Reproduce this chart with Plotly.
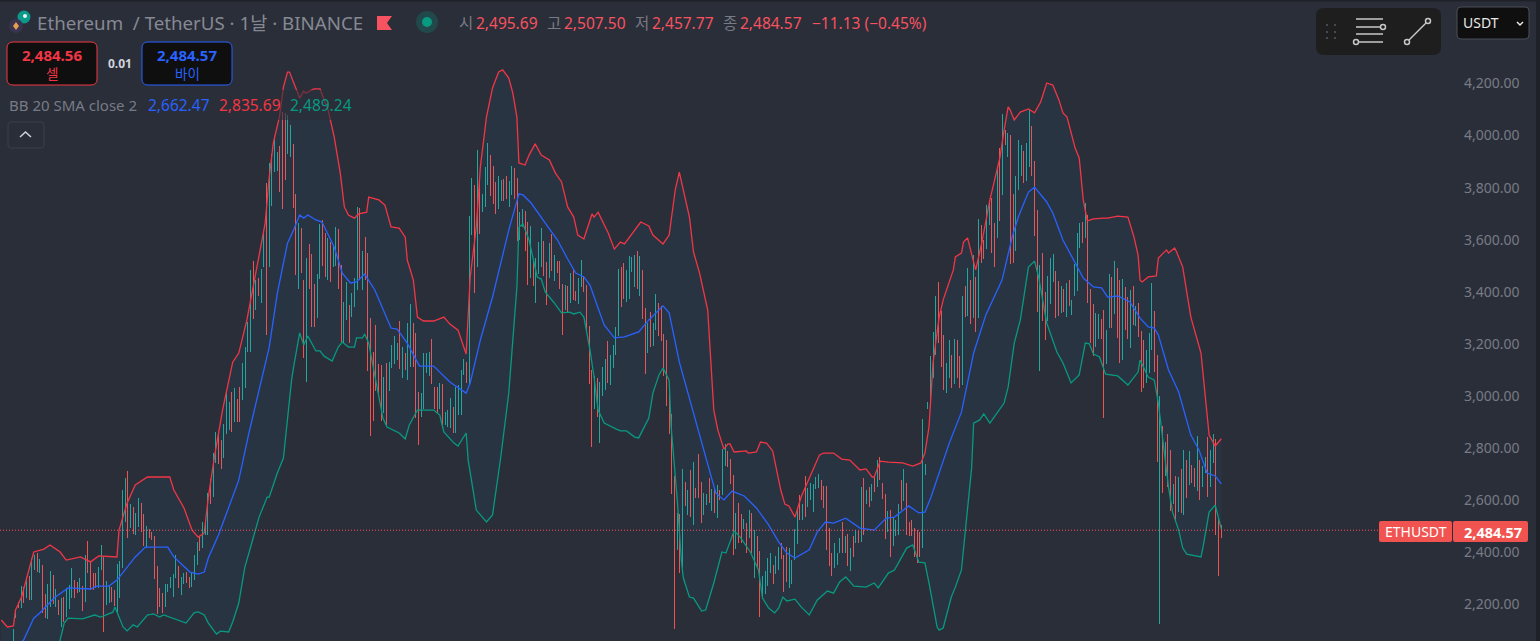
#!/usr/bin/env python
# -*- coding: utf-8 -*-
"""ETHUSDT daily chart with Bollinger bands, dark TradingView look."""

import plotly.graph_objs as go

WIDTH = 1540
HEIGHT = 641

# candles, oldest first: high, low and direction (g = up, r = down)
candle_high = [
    2040, 2030, 2050, 2045, 2104, 2181, 2210, 2270, 2268, 2306,
    2309, 2377, 2389, 2396, 2373, 2350, 2240, 2278, 2328, 2313,
    2258, 2217, 2223, 2229, 2261, 2274, 2338, 2293, 2287, 2300,
    2270, 2389, 2443, 2364, 2319, 2319, 2345, 2428, 2383, 2290,
    2274, 2268, 2255, 2355, 2366, 2639, 2684, 2712, 2584, 2575,
    2549, 2607, 2588, 2547, 2501, 2488, 2479, 2462, 2347, 2261,
    2242, 2278, 2278, 2306, 2316, 2389, 2347, 2306, 2321, 2325,
    2306, 2325, 2389, 2441, 2460, 2517, 2511, 2626, 2680, 2780,
    2863, 2854, 2831, 2892, 3023, 2978, 3017, 3029, 2987, 3036,
    3125, 3189, 3285, 3484, 3518, 3445, 3455, 3486, 3637, 3816,
    3896, 3929, 3989, 3938, 3960, 4092, 4085, 4079, 4040, 3967,
    3774, 3663, 3644, 3445, 3528, 3582, 3544, 3430, 3468, 3660,
    3676, 3624, 3605, 3592, 3580, 3650, 3640, 3503, 3362, 3439,
    3349, 3394, 3455, 3727, 3720, 3557, 3612, 3548, 3298, 3170,
    3272, 3123, 3119, 3074, 3125, 3132, 3196, 3230, 3202, 3288,
    3189, 3164, 3279, 3352, 3279, 3243, 3016, 3010, 3164, 3164,
    3170, 3217, 3036, 3036, 3051, 3048, 2939, 2948, 2991, 2959,
    3036, 3042, 3100, 3142, 3132, 3691, 3838, 3810, 3944, 3827,
    3775, 3878, 3970, 3925, 3884, 3823, 3845, 3829, 3833, 3845,
    3827, 3883, 3874, 3836, 3705, 3718, 3710, 3667, 3653, 3519,
    3528, 3590, 3647, 3596, 3516, 3586, 3622, 3541, 3518, 3518,
    3430, 3426, 3422, 3471, 3486, 3403, 3455, 3522, 3461, 3426,
    3270, 3100, 3077, 3068, 3055, 3110, 3144, 3211, 3157, 3196,
    3266, 3486, 3494, 3509, 3484, 3537, 3535, 3541, 3557, 3537,
    3484, 3336, 3279, 3324, 3279, 3390, 3359, 3345, 3237, 3215,
    3014, 2931, 2693, 2550, 2547, 2719, 2668, 2639, 2716, 2747,
    2646, 2776, 2669, 2627, 2623, 2684, 2642, 2642, 2659, 2639,
    2796, 2816, 2789, 2757, 2697, 2550, 2588, 2547, 2527, 2511,
    2563, 2550, 2486, 2463, 2405, 2307, 2328, 2377, 2396, 2351,
    2386, 2422, 2435, 2390, 2422, 2415, 2371, 2488, 2569, 2620,
    2584, 2693, 2646, 2665, 2662, 2688, 2701, 2678, 2655, 2655,
    2492, 2396, 2435, 2396, 2454, 2518, 2463, 2469, 2415, 2463,
    2486, 2483, 2650, 2684, 2639, 2650, 2662, 2688, 2755, 2765,
    2665, 2624, 2559, 2563, 2537, 2524, 2586, 2678, 2720, 2665,
    2518, 2522, 2492, 2486, 2476, 2911, 2739, 2976, 3154, 3245,
    3384, 3437, 3327, 3234, 3126, 3215, 3158, 3219, 3215, 3154,
    3384, 3423, 3490, 3446, 3542, 3456, 3680, 3657, 3599, 3734,
    3743, 3759, 3663, 3883, 3951, 4083, 4022, 4009, 4002, 3776,
    3845, 3983, 3964, 3941, 3970, 4101, 4037, 3903, 3714, 3503,
    3551, 3401, 3461, 3529, 3545, 3480, 3443, 3423, 3411, 3433,
    3446, 3369, 3506, 3625, 3666, 3670, 3740, 3695, 3410, 3353,
    3318, 3314, 3296, 3330, 3254, 3469, 3456, 3520, 3490, 3446,
    3448, 3420, 3382, 3407, 3423, 3346, 3356, 3251, 3215, 3177,
    3243, 3433, 3327, 3158, 3000, 2885, 2822, 2853, 2793, 2662,
    2693, 2688, 2720, 2793, 2755, 2789, 2735, 2723, 2847, 2755,
    2732, 2767, 2844, 2793, 2854, 2834, 2527, 2505,
]
candle_low = [
    1980, 1970, 1990, 1985, 2000, 2146, 2185, 2185, 2204, 2223,
    2217, 2217, 2332, 2325, 2319, 2165, 2146, 2142, 2191, 2200,
    2191, 2159, 2114, 2133, 2153, 2181, 2223, 2223, 2242, 2249,
    2176, 2210, 2319, 2255, 2255, 2261, 2261, 2332, 2095, 2197,
    2204, 2210, 2195, 2165, 2223, 2338, 2517, 2456, 2492, 2469,
    2466, 2498, 2479, 2425, 2415, 2453, 2447, 2299, 2162, 2191,
    2168, 2191, 2249, 2261, 2229, 2300, 2261, 2236, 2277, 2281,
    2261, 2268, 2293, 2351, 2406, 2415, 2466, 2466, 2585, 2613,
    2741, 2739, 2718, 2761, 2854, 2869, 2863, 2901, 2901, 2901,
    2985, 3029, 3170, 3170, 3294, 3330, 3384, 3358, 3494, 3234,
    3494, 3729, 3861, 3865, 3784, 3718, 3829, 3929, 3919, 3720,
    3464, 3409, 3471, 3147, 3055, 3409, 3266, 3266, 3298, 3448,
    3499, 3458, 3445, 3439, 3496, 3499, 3411, 3208, 3205, 3292,
    3205, 3302, 3343, 3407, 3445, 3407, 3445, 3096, 2846, 2905,
    3020, 3010, 2905, 2933, 2888, 3020, 3106, 3123, 3138, 3102,
    3068, 3100, 3061, 3112, 3112, 2917, 2812, 2920, 2952, 3087,
    3077, 3045, 2952, 2933, 2952, 2876, 2888, 2882, 2876, 2859,
    2859, 2927, 2927, 3080, 3051, 3042, 3618, 3394, 3496, 3622,
    3708, 3727, 3810, 3769, 3737, 3699, 3718, 3749, 3749, 3755,
    3727, 3772, 3755, 3595, 3599, 3650, 3557, 3426, 3455, 3422,
    3358, 3468, 3494, 3461, 3349, 3452, 3481, 3443, 3471, 3409,
    3234, 3330, 3317, 3356, 3368, 3366, 3352, 3420, 3400, 3247,
    3048, 2805, 2950, 2920, 2821, 3000, 3023, 3051, 3042, 3108,
    3157, 3230, 3343, 3372, 3362, 3372, 3477, 3420, 3409, 3384,
    3295, 3084, 3166, 3189, 3192, 3253, 3230, 3212, 3077, 2961,
    2854, 2624, 2106, 2409, 2319, 2319, 2578, 2543, 2537, 2505,
    2607, 2607, 2514, 2543, 2582, 2591, 2560, 2550, 2531, 2601,
    2618, 2732, 2729, 2662, 2390, 2413, 2435, 2435, 2488, 2399,
    2454, 2396, 2303, 2345, 2150, 2220, 2239, 2271, 2319, 2277,
    2317, 2332, 2373, 2249, 2284, 2262, 2277, 2371, 2432, 2524,
    2522, 2537, 2573, 2601, 2556, 2642, 2646, 2601, 2569, 2409,
    2349, 2307, 2339, 2351, 2399, 2399, 2396, 2349, 2328, 2381,
    2435, 2435, 2441, 2467, 2586, 2572, 2595, 2633, 2650, 2678,
    2604, 2450, 2479, 2380, 2424, 2463, 2467, 2563, 2597, 2467,
    2463, 2464, 2383, 2358, 2381, 2415, 2697, 2950, 2959, 3068,
    3158, 3205, 3113, 3023, 3013, 3068, 3030, 3046, 3068, 3030,
    3042, 3305, 3307, 3277, 3298, 3247, 3301, 3512, 3525, 3565,
    3657, 3551, 3497, 3608, 3672, 3772, 3964, 3917, 3506, 3512,
    3557, 3791, 3845, 3819, 3826, 3878, 3846, 3615, 3324, 3096,
    3289, 3215, 3289, 3353, 3439, 3301, 3307, 3320, 3321, 3302,
    3346, 3311, 3385, 3405, 3570, 3589, 3606, 3356, 3202, 3155,
    3190, 3218, 3218, 2917, 3123, 3260, 3262, 3315, 3224, 3128,
    3138, 3254, 3218, 3183, 3273, 3269, 3228, 3017, 3030, 3051,
    3090, 3177, 3094, 2748, 2125, 2629, 2693, 2652, 2559, 2586,
    2518, 2556, 2550, 2543, 2607, 2659, 2665, 2650, 2637, 2601,
    2652, 2706, 2614, 2652, 2744, 2467, 2310, 2456,
]
candle_dir = list(
    "rggrggrgrg" "rggrgrrggr" "grgrgggrrg" "rgrrrrggrg" "grrggggrgr"
    "ggrrgrrrrr" "rgggggrggr" "rgggrgggrg" "grrgggrgrr" "ggggrgrggr"
    "ggggrrrggr" "rgrrgrrrgg" "rrgrggrrgg" "rgggrgrrrr" "rrrgrggggr"
    "grggrrrggg" "grrrgrgggr" "ggggrggrgr" "gggrrrggrr" "ggrrggrrgr"
    "gggrrgrgrr" "rgrgrrggrr" "rrgrgggrgg" "ggrrggggrg" "rrgrggrrrr"
    "rrrgrgrgrg" "rrrggrgrgr" "ggrrrgrrgr" "grgrrggggr" "ggrrrggggr"
    "grgggggrrr" "rrgggrgrgr" "grgrgrgrgr" "rrgrgggrgr" "rrrrrggggg"
    "grrrggrgrr" "grgrgrgrrg" "grrgrgrgrr" "gggrggrrrg" "rrgggrrgrg"
    "rggggrgrrr" "ggrrggrgrr" "grrgrgrrrg" "ggrrgrgrrg" "rgrgrgrrgr"
    "ggrggrrr"
)

# Bollinger bands, read at their turning points (sample position, price)
upper_pos = [
    0, 3, 6, 7, 10, 13, 16, 21, 24, 29, 32, 39, 44, 48, 57, 58, 62, 66, 72, 83,
    85, 90, 94, 97, 100, 102, 105, 109, 114, 117, 121, 125, 127, 130, 132, 134,
    137, 139, 141, 142, 147, 149, 150, 154, 157, 161, 164, 167, 169, 171, 174,
    176, 180, 181, 186, 189, 192, 196, 199, 200, 203, 205, 208, 213, 218, 221,
    225, 229, 231, 234, 236, 239, 242, 245, 247, 250, 252, 254, 255, 258, 260,
    263, 266, 270, 273, 276, 279, 282, 284, 287, 291, 292, 294, 299, 302, 305,
    307, 312, 315, 319, 321, 326, 329, 332, 334, 339, 341, 344, 348, 351, 353,
    356, 358, 359, 361, 367, 368, 372, 374, 377, 380, 384, 386, 388, 391, 394,
    398, 403, 405, 410, 414, 418, 423, 426, 429, 430, 433, 437, 444, 449, 453,
    455, 457, 459, 462, 464, 469, 470, 473, 474, 476, 480, 483, 487, 489, 492,
    494, 496, 497, 499, 502, 506, 509, 512, 515, 518, 521, 523, 525, 529, 531,
    533, 535, 538, 543, 545, 550, 555, 558, 560, 561, 562, 565, 569, 570, 574,
    575, 578, 579, 582, 586, 591, 595, 598, 601,
]
upper_val = [
    2140, 2113, 2117, 2178, 2228, 2320, 2401, 2412, 2428, 2401, 2370, 2382, 2363, 2386, 2382, 2485, 2589, 2658, 2689, 2689,
    2639, 2570, 2485, 2458, 2474, 2612, 2766, 2946, 3130, 3165, 3292, 3457, 3534, 3664, 3841, 3971,
    4071, 4186, 4244, 4244, 4144, 4171, 4163, 4179, 4179, 4098, 3995, 3856, 3726, 3695, 3683,
    3699, 3706, 3764, 3753, 3733, 3649, 3645, 3610, 3522, 3445, 3303, 3288, 3288, 3303, 3276,
    3253, 3161, 3457, 3649, 3879, 4071, 4183, 4244, 4252, 4221, 4163, 4071, 3895, 3887, 3925,
    3968, 3925, 3906, 3856, 3822, 3726, 3687, 3618, 3603, 3699, 3687, 3706, 3626, 3564, 3591,
    3584, 3637, 3668, 3653, 3618, 3584, 3618, 3791, 3860, 3687, 3553, 3472, 3330, 2946, 2869,
    2796, 2816, 2816, 2785, 2789, 2781, 2785, 2823, 2819, 2789, 2639, 2585, 2578, 2535, 2612,
    2685, 2773, 2781, 2781, 2758, 2754, 2716, 2720, 2689, 2689, 2750, 2746, 2743, 2731, 2743,
    2781, 2881, 3127, 3303, 3369, 3484, 3534, 3549, 3591, 3607, 3484, 3588, 3753, 3818, 3918,
    4021, 4110, 4098, 4060, 4090, 4102, 4087, 4129, 4202, 4194, 4137, 4087, 4071, 3952, 3914,
    3753, 3672, 3680, 3683, 3683, 3691, 3687, 3610, 3541, 3445, 3438, 3457, 3461, 3530, 3561,
    3549, 3568, 3553, 3495, 3303, 3165, 2850, 2808, 2835.69,
]
middle_pos = [
    0, 11, 16, 19, 26, 33, 44, 47, 53, 57, 66, 71, 82, 85, 93, 97, 100, 102, 107, 112,
    117, 122, 127, 132, 136, 141, 144, 147, 149, 151, 155, 158, 164, 168, 172, 175,
    179, 184, 192, 195, 200, 206, 213, 221, 229, 231, 236, 242, 250, 255, 257, 261,
    268, 274, 279, 283, 287, 290, 294, 297, 302, 307, 314, 319, 326, 329, 334, 340,
    345, 347, 352, 356, 360, 366, 372, 378, 383, 387, 391, 398, 402, 406, 410, 416,
    423, 430, 436, 440, 447, 452, 455, 458, 462, 467, 473, 479, 485, 489, 493, 498,
    501, 506, 509, 515, 518, 523, 529, 533, 538, 542, 545, 550, 556, 561, 565, 568,
    570, 575, 580, 585, 586, 590, 594, 598, 601,
]
middle_val = [
    1985, 2063, 2147, 2167, 2224, 2263, 2259, 2270, 2270, 2293, 2382, 2420, 2420, 2382, 2324, 2316, 2324, 2378, 2466, 2574,
    2677, 2858, 3023, 3188, 3395, 3587, 3637, 3695, 3683, 3695, 3676, 3668, 3572, 3472, 3434, 3438,
    3468, 3407, 3261, 3257, 3203, 3115, 3115, 3054, 3011, 3050, 3215, 3380, 3637, 3776, 3772, 3741,
    3664, 3599, 3526, 3472, 3457, 3426, 3338, 3273, 3223, 3227, 3246, 3292, 3346, 3319, 3131, 2958,
    2819, 2766, 2627, 2601, 2635, 2616, 2570, 2505, 2439, 2397, 2378, 2409, 2478, 2516, 2512, 2531,
    2493, 2485, 2531, 2535, 2578, 2551, 2554, 2612, 2704, 2819, 2938, 3165, 3311, 3380, 3445, 3611,
    3687, 3783, 3802, 3745, 3703, 3599, 3511, 3453, 3419, 3415, 3380, 3384, 3361, 3299, 3265, 3261,
    3234, 3100, 3015, 2869, 2850, 2793, 2704, 2693, 2662.47,
]
lower_pos = [
    0, 15, 25, 29, 31, 33, 40, 46, 49, 55, 56, 60, 62, 65, 67, 72, 75, 78, 80, 89,
    91, 95, 97, 100, 102, 106, 108, 112, 114, 117, 120, 122, 127, 131, 132, 136,
    139, 143, 144, 147, 149, 151, 155, 157, 159, 163, 166, 168, 171, 174, 175, 178,
    179, 181, 184, 188, 190, 196, 199, 201, 205, 213, 216, 218, 223, 225, 229, 230,
    234, 239, 242, 246, 250, 252, 254, 255, 257, 260, 262, 264, 266, 268, 272, 276,
    280, 282, 285, 287, 290, 292, 294, 297, 303, 305, 308, 312, 314, 319, 321, 324,
    326, 329, 330, 333, 335, 336, 339, 341, 345, 347, 351, 355, 357, 361, 364, 369,
    373, 375, 378, 381, 383, 385, 387, 391, 394, 398, 402, 407, 410, 413, 416, 420,
    426, 430, 432, 437, 440, 446, 449, 452, 455, 457, 461, 462, 464, 468, 470, 473,
    478, 479, 482, 484, 487, 494, 496, 499, 502, 505, 506, 509, 511, 515, 518, 520,
    523, 527, 531, 534, 536, 538, 541, 544, 550, 553, 555, 560, 561, 565, 568, 570,
    571, 575, 577, 580, 582, 584, 591, 592, 595, 598, 601,
]
lower_val = [
    1850, 1900, 1980, 2063, 2128, 2147, 2144, 2159, 2151, 2170, 2190, 2113, 2098, 2121, 2113, 2159, 2163, 2151, 2159, 2132,
    2128, 2167, 2171, 2159, 2128, 2086, 2097, 2094, 2132, 2205, 2343, 2397, 2535, 2612, 2612, 2704,
    2762, 3061, 3111, 3242, 3196, 3230, 3173, 3173, 3153, 3134, 3188, 3207, 3188, 3188, 3223, 3223,
    3238, 3203, 3073, 2915, 2881, 2858, 2835, 2889, 2946, 2946, 2927, 2862, 2819, 2808, 2858, 2754,
    2562, 2516, 2543, 2762, 3011, 3215, 3418, 3649, 3660, 3599, 3522, 3457, 3449, 3399, 3361, 3319,
    3322, 3315, 3322, 3303, 3177, 3073, 2946, 2896, 2873, 2866, 2866, 2842, 2839, 2915, 3011, 3081,
    3107, 3061, 2881, 2601, 2370, 2301, 2228, 2224, 2174, 2178, 2282, 2401, 2397, 2482, 2458, 2401,
    2332, 2224, 2186, 2167, 2186, 2228, 2213, 2220, 2190, 2159, 2217, 2251, 2243, 2286, 2305, 2270,
    2266, 2282, 2263, 2320, 2332, 2416, 2428, 2362, 2359, 2282, 2113, 2101, 2109, 2228, 2266, 2332,
    2723, 2896, 2908, 2931, 2896, 2973, 3034, 3203, 3292, 3434, 3495, 3518, 3457, 3280, 3215, 3169,
    3127, 3050, 3081, 3203, 3200, 3161, 3150, 3084, 3077, 3058, 3042, 3092, 3138, 3073, 3061, 2973,
    2908, 2650, 2554, 2485, 2416, 2393, 2382, 2420, 2554, 2581, 2489.24,
]

price_ticks = [2200, 2400, 2600, 2800, 3000, 3200, 3400, 3600, 3800, 4000, 4200]
last_price = 2484.57

# colours
BG = "#2a2e39"
UP = "#26a69a"
DOWN = "#ef5350"
TAG = "#f05350"
BAND_RED = "#f23645"
BAND_BLUE = "#2962ff"
BAND_GREEN = "#089981"
GREY = "#787b86"
HEAD_RED = "#f7525f"

FONT = "Noto Sans, Noto Sans CJK KR, sans-serif"

# band samples sit on a slightly finer grid than the candles
SAMPLE_STEP = 2.03
CANDLE_STEP = 8 / 3
LAST_CANDLE_PX = 1221.3
PLOT_RIGHT_PX = 1452


def px(x):
    return x / WIDTH


def py(y):
    return 1 - y / HEIGHT


def rounded_rect(x0, y0, x1, y1, r):
    """Rounded rectangle path, given in screen pixels."""
    return (
        f"M {px(x0 + r)} {py(y0)} L {px(x1 - r)} {py(y0)} "
        f"Q {px(x1)} {py(y0)} {px(x1)} {py(y0 + r)} L {px(x1)} {py(y1 - r)} "
        f"Q {px(x1)} {py(y1)} {px(x1 - r)} {py(y1)} L {px(x0 + r)} {py(y1)} "
        f"Q {px(x0)} {py(y1)} {px(x0)} {py(y1 - r)} L {px(x0)} {py(y0 + r)} "
        f"Q {px(x0)} {py(y0)} {px(x0 + r)} {py(y0)} Z"
    )


def polyline(points):
    parts = [f"{px(x)} {py(y)}" for x, y in points]
    return "M " + " L ".join(parts)


def add_box(fig, x0, y0, x1, y1, r, fill, border=None, width=1):
    fig.add_shape(
        type="path", xref="paper", yref="paper", layer="above",
        path=rounded_rect(x0, y0, x1, y1, r), fillcolor=fill,
        line=dict(color=border or fill, width=width if border else 0),
    )


def add_line(fig, points, color, width=1.5):
    fig.add_shape(
        type="path", xref="paper", yref="paper", layer="above",
        path=polyline(points), line=dict(color=color, width=width),
    )


def add_dot(fig, cx, cy, r, fill, border=None, width=1.5):
    fig.add_shape(
        type="circle", xref="paper", yref="paper", layer="above",
        x0=px(cx - r), x1=px(cx + r), y0=py(cy + r), y1=py(cy - r),
        fillcolor=fill, line=dict(color=border or fill, width=width if border else 0),
    )


def add_text(fig, x, y, text, color, size, anchor="left", bold=False):
    if bold:
        text = f"<b>{text}</b>"
    fig.add_annotation(
        xref="paper", yref="paper", x=px(x), y=py(y), text=text, showarrow=False,
        xanchor=anchor, yanchor="middle", borderpad=0,
        font=dict(family=FONT, size=size, color=color),
    )


def create_chart():
    n = len(candle_high)
    last = n - 1
    x_candles = list(range(n))

    def to_candle_x(positions):
        return [last - (601 - p) * SAMPLE_STEP / CANDLE_STEP for p in positions]

    opens = [l if d == "g" else h for h, l, d in zip(candle_high, candle_low, candle_dir)]
    closes = [h if d == "g" else l for h, l, d in zip(candle_high, candle_low, candle_dir)]

    fig = go.Figure()
    fig.add_trace(go.Ohlc(
        x=x_candles, open=opens, high=candle_high, low=candle_low, close=closes,
        tickwidth=0, increasing_line_color=UP, decreasing_line_color=DOWN,
        line=dict(width=1), hoverinfo="skip", showlegend=False,
    ))
    fig.add_trace(go.Scatter(
        x=to_candle_x(upper_pos), y=upper_val, mode="lines", showlegend=False,
        line=dict(color=BAND_RED, width=1.3), hoverinfo="skip",
    ))
    fig.add_trace(go.Scatter(
        x=to_candle_x(lower_pos), y=lower_val, mode="lines", showlegend=False,
        line=dict(color=BAND_GREEN, width=1.3), hoverinfo="skip",
        fill="tonexty", fillcolor="rgba(33,150,243,0.06)",
    ))
    fig.add_trace(go.Scatter(
        x=to_candle_x(middle_pos), y=middle_val, mode="lines", showlegend=False,
        line=dict(color=BAND_BLUE, width=1.3), hoverinfo="skip",
    ))

    fig.update_layout(
        width=WIDTH, height=HEIGHT, margin=dict(l=0, r=0, t=0, b=0),
        paper_bgcolor=BG, plot_bgcolor=BG, showlegend=False,
        font=dict(family=FONT, color=GREY),
        xaxis=dict(
            domain=[0, PLOT_RIGHT_PX / WIDTH],
            range=[last - LAST_CANDLE_PX / CANDLE_STEP,
                   last + (PLOT_RIGHT_PX - LAST_CANDLE_PX) / CANDLE_STEP],
            showgrid=False, zeroline=False, showticklabels=False, ticks="",
            rangeslider=dict(visible=False),
        ),
        yaxis=dict(
            side="right", range=[2059.2, 4520.6], tickvals=price_ticks, tickformat=",.2f",
            showgrid=False, zeroline=False, ticks="", ticklabelstandoff=11,
            tickfont=dict(family=FONT, size=14, color=GREY),
        ),
    )

    # last price line
    fig.add_shape(
        type="line", xref="paper", yref="y", x0=0, x1=px(1380),
        y0=last_price, y1=last_price, line=dict(color=HEAD_RED, width=1, dash="1px,2px"),
    )

    # legend text sits on a translucent strip
    fig.add_shape(
        type="rect", xref="paper", yref="paper", layer="above",
        x0=0, x1=px(356), y0=py(120), y1=py(90),
        fillcolor="rgba(42,46,57,0.6)", line=dict(width=0),
    )

    # page edges
    fig.add_shape(type="rect", xref="paper", yref="paper", layer="above",
                  x0=0, x1=1, y0=py(1.5), y1=1, fillcolor="#1f2128", line=dict(width=0))
    fig.add_shape(type="rect", xref="paper", yref="paper", layer="above",
                  x0=px(1536), x1=1, y0=0, y1=1, fillcolor="#1f2128", line=dict(width=0))

    # header
    add_dot(fig, 24, 17, 6.5, "#0b9a8a")
    add_dot(fig, 25, 16, 2, "#e8f4f2")
    add_dot(fig, 16, 26, 7, "#3a3350")
    fig.add_shape(
        type="path", xref="paper", yref="paper", layer="above",
        path=polyline([(16, 22), (19, 26), (16, 30), (13, 26)]) + " Z",
        fillcolor="#e0a050", line=dict(width=0),
    )
    add_text(fig, 36, 23, "Ethereum  / TetherUS · 1날 · BINANCE", "#868993", 18.7)
    fig.add_shape(
        type="path", xref="paper", yref="paper", layer="above",
        path=polyline([(377, 16), (392, 16), (387, 23), (392, 30), (377, 30)]) + " Z",
        fillcolor=HEAD_RED, line=dict(width=0),
    )
    add_dot(fig, 427, 22, 11, "rgba(8,153,129,0.25)")
    add_dot(fig, 427, 22, 5, "#089981")
    add_text(fig, 458, 23, "시", GREY, 15.5)
    add_text(fig, 475, 23, "2,495.69", HEAD_RED, 15.5)
    add_text(fig, 546, 23, "고", GREY, 15.5)
    add_text(fig, 563, 23, "2,507.50", HEAD_RED, 15.5)
    add_text(fig, 634, 23, "저", GREY, 15.5)
    add_text(fig, 651, 23, "2,457.77", HEAD_RED, 15.5)
    add_text(fig, 722, 23, "종", GREY, 15.5)
    add_text(fig, 739, 23, "2,484.57", HEAD_RED, 15.5)
    add_text(fig, 811, 23, "−11.13 (−0.45%)", HEAD_RED, 15.5)

    # sell / buy buttons
    add_box(fig, 7, 42, 97, 85, 6, "#0f0f0f", BAND_RED)
    add_text(fig, 52.5, 54.5, "2,484.56", BAND_RED, 15, "center", True)
    add_text(fig, 52.5, 74, "셀", BAND_RED, 13.5, "center")
    add_text(fig, 120, 63, "0.01", "#d1d4dc", 12, "center", True)
    add_box(fig, 142, 42, 232, 85, 6, "#0f0f0f", BAND_BLUE)
    add_text(fig, 187, 54.5, "2,484.57", BAND_BLUE, 15, "center", True)
    add_text(fig, 187, 74, "바이", BAND_BLUE, 13.5, "center")

    # indicator legend
    add_text(fig, 8, 105, "BB 20 SMA close 2", GREY, 15)
    add_text(fig, 147, 105, "2,662.47", BAND_BLUE, 15.5)
    add_text(fig, 218, 105, "2,835.69", BAND_RED, 15.5)
    add_text(fig, 289, 105, "2,489.24", BAND_GREEN, 15.5)
    add_box(fig, 8, 122, 44, 148, 3, BG, "#3a3e49")
    add_line(fig, [(20, 137), (25.5, 132), (31, 137)], "#d1d4dc")

    # drawing toolbar
    add_box(fig, 1316, 8, 1441, 55, 8, "#1e1e1e")
    for dx in (1327, 1335):
        for dy in (25, 32, 38):
            add_dot(fig, dx, dy, 1, "#55585f")
    icon = "#c8c8c8"
    add_line(fig, [(1356, 19), (1383, 19)], icon)
    add_line(fig, [(1356, 27), (1380, 27)], icon)
    add_dot(fig, 1383, 27, 2.5, "#1e1e1e", icon)
    add_line(fig, [(1356, 34), (1383, 34)], icon)
    add_line(fig, [(1359, 42), (1383, 42)], icon)
    add_dot(fig, 1356, 42, 2.5, "#1e1e1e", icon)
    add_line(fig, [(1409, 40), (1426, 23)], icon)
    add_dot(fig, 1407, 42, 2.5, "#1e1e1e", icon)
    add_dot(fig, 1428, 21, 2.5, "#1e1e1e", icon)

    # symbol selector
    add_box(fig, 1457, 7, 1529, 39, 4, "#0f0f0f", "#4a4e59")
    add_text(fig, 1462, 23, "USDT", "#e8e8e8", 14)
    add_line(fig, [(1517, 22), (1520, 25), (1523, 22)], "#e8e8e8")

    # price tags
    add_box(fig, 1379, 521, 1452, 542, 2, TAG)
    add_text(fig, 1416, 531.5, "ETHUSDT", "#ffffff", 14, "center")
    add_box(fig, 1453, 521, 1528, 542, 2, TAG)
    add_text(fig, 1493, 531.5, "2,484.57", "#ffffff", 14.5, "center", True)

    return fig


def main():
    fig = create_chart()
    # candles are 1px lines, keep them sharp like the original canvas
    sharp = (
        "document.body.style.margin='0';"
        "document.querySelectorAll('.ohlc path').forEach("
        "function(p){p.style.shapeRendering='crispEdges';});"
    )
    fig.write_html("out.html", config={"displayModeBar": False}, post_script=sharp)


if __name__ == "__main__":
    main()
